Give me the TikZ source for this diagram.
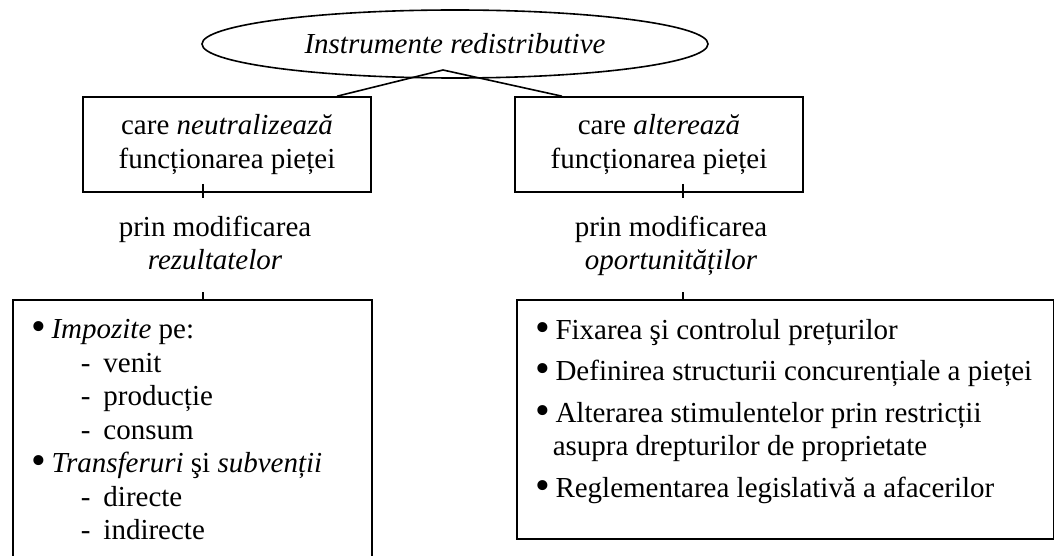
\documentclass[tikz,border=0pt]{standalone}
\usepackage{fontspec}
\usepackage{graphicx}
\setmainfont{Liberation Serif}
\usetikzlibrary{shapes.geometric,positioning}
\tikzstyle{every node}=[font=\fontsize{29}{33.5}\selectfont]
\tikzstyle{every path}=[line width=1.6pt,line join=miter]
\tikzstyle{oval}=[draw,ellipse,minimum width=506pt,minimum height=68pt,inner sep=0pt]
\tikzstyle{kind}=[draw,rectangle,minimum width=288pt,minimum height=95pt,align=center,inner sep=0pt]
\tikzstyle{means}=[align=center,inner sep=0pt]
\tikzstyle{listbox}=[draw,rectangle,inner sep=0pt,anchor=north west]
\tikzstyle{listtext}=[align=left,inner sep=0pt,anchor=north west]
\newcommand{\listdot}{\raisebox{-0.12ex}{\scalebox{1.45}{\textbullet}}\hspace{5pt}}

\begin{document}
\begin{tikzpicture}[x=1pt,y=-1pt]
    \useasboundingbox (0,0) rectangle (1054,556);

    % Top of the scheme
    \node[oval] (instrOval) at (455,44) {\textit{Instrumente redistributive}};
    \coordinate (apex) at (443,70);

    % The two kinds of instruments
    \node[kind] (neutrBox) at (227,144.5) {care \textit{neutralizează}\\funcționarea pieței};
    \node[kind] (alterBox) at (659,144.5) {care \textit{alterează}\\funcționarea pieței};
    \draw (apex) -- ([xshift=110pt]neutrBox.north)
    (apex) -- ([xshift=-97pt]alterBox.north);

    % How they act
    \node[means] (rezultText) at (215,243) {prin modificarea\\\textit{rezultatelor}};
    \node[means] (oportText) at (671,246) {prin modificarea\\\textit{oportunităților}};

    % Boxes with the measures
    \node[listbox,minimum width=359pt,minimum height=290pt] (taxBox) at (12,299) {};
    \node[listbox,minimum width=537pt,minimum height=239pt] (ruleBox) at (516,299) {};

    % Short ticks
    \draw ([xshift=-12pt,yshift=9pt]rezultText.north |- neutrBox.south) -- ++(0,14)
    ([xshift=-12pt]rezultText.south |- taxBox.north) -- ++(0,-7);
    \draw ([xshift=12pt,yshift=9pt]oportText.north |- alterBox.south) -- ++(0,14)
    ([xshift=12pt]oportText.south |- ruleBox.north) -- ++(0,-7);

    % List of the first kind
    \node[listtext] (taxList) at (31,318.5) {%
        \listdot\textit{Impozite} pe:\\
        \hspace*{49pt}-\hspace{13pt}venit\\
        \hspace*{49pt}-\hspace{13pt}producție\\
        \hspace*{49pt}-\hspace{13pt}consum\\
        \listdot\textit{Transferuri} şi \textit{subvenții}\\
        \hspace*{49pt}-\hspace{13pt}directe\\
        \hspace*{49pt}-\hspace{13pt}indirecte};

    % List of the second kind
    \node[listtext] (ruleList) at (535,318.5) {%
        \listdot Fixarea şi controlul prețurilor\\[8pt]
        \listdot Definirea structurii concurențiale a pieței\\[8pt]
        \listdot Alterarea stimulentelor prin restricții\\
        \hspace*{17pt}asupra drepturilor de proprietate\\[8pt]
        \listdot Reglementarea legislativă a afacerilor};
\end{tikzpicture}
\end{document}
